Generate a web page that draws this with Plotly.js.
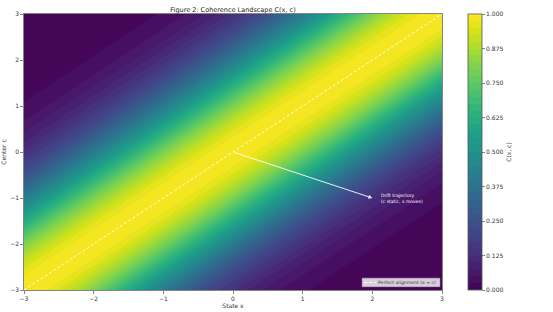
<!DOCTYPE html>
<html>
<head>
<meta charset="utf-8">
<script src="https://cdn.plot.ly/plotly-3.0.1.min.js"></script>
<style>html,body{margin:0;padding:0;background:#fff;}#chart{width:553px;height:312px;}</style>
</head>
<body>
<div id="chart"></div>
<script>
// grid coordinates (state x and center c)
const xStates = [-3,-2.75,-2.5,-2.25,-2,-1.75,-1.5,-1.25,-1,-0.75,-0.5,-0.25,0,0.25,0.5,0.75,1,1.25,1.5,1.75,2,2.25,2.5,2.75,3];
const cCenters = [-3,-2.75,-2.5,-2.25,-2,-1.75,-1.5,-1.25,-1,-0.75,-0.5,-0.25,0,0.25,0.5,0.75,1,1.25,1.5,1.75,2,2.25,2.5,2.75,3];
const coherenceByGap = [1.000,0.986,0.946,0.882,0.801,0.707,0.607,0.506,0.411,0.325,0.249,0.186,0.135,0.096,0.066,0.044,0.029,0.018,0.011,0.007,0.004,0.002,0.001,0.0006,0.0003];
// perfect alignment line
const alignX = [-3, 3];
const alignY = [-3, 3];
// drift arrow
const driftStart = [0, 0];
const driftEnd = [2, -1];
const cbTicks = [0,0.125,0.25,0.375,0.5,0.625,0.75,0.875,1];
const legendLabel = 'Perfect alignment (x = c)';

const z = cCenters.map((c, i) => xStates.map((x, j) => coherenceByGap[Math.abs(j - i)]));

const font = 'DejaVu Sans, sans-serif';
const traces = [
  {
    type: 'contour', x: xStates, y: cCenters, z: z,
    colorscale: 'Viridis', zmin: 0, zmax: 1,
    contours: {coloring: 'fill', start: 0, end: 1, size: 0.025, showlines: false},
    line: {width: 0},
    showlegend: false, hoverinfo: 'skip',
    colorbar: {
      x: 1.062, xanchor: 'left', xpad: 0, ypad: 0, y: 0.5, yanchor: 'middle', len: 1, lenmode: 'fraction',
      thickness: 14, thicknessmode: 'pixels',
      outlinewidth: 0.8, outlinecolor: '#555',
      tickvals: cbTicks, ticktext: cbTicks.map(v => v.toFixed(3)),
      ticks: 'outside', ticklen: 3, tickwidth: 0.6, tickcolor: '#333',
      tickfont: {family: font, size: 6, color: '#333'},
      title: {text: 'C(x, c)', side: 'right', font: {family: font, size: 6, color: '#333'}}
    }
  },
  {
    type: 'scatter', mode: 'lines', x: alignX, y: alignY,
    name: legendLabel, showlegend: false,
    line: {color: 'rgba(255,255,255,0.85)', width: 1, dash: '3px,2px'},
    hoverinfo: 'skip'
  }
];

const layout = {
  width: 553, height: 312,
  margin: {l: 24, r: 111, t: 14, b: 22},
  paper_bgcolor: '#fff', plot_bgcolor: '#fff',
  font: {family: font, size: 6, color: '#333'},
  title: {text: 'Figure 2: Coherence Landscape C(x, c)', font: {family: font, size: 6.5, color: '#222'},
          x: 0.5, xref: 'paper', xanchor: 'center', y: 1, yref: 'paper', yanchor: 'bottom', pad: {b: 2}},
  xaxis: {range: [-3, 3], dtick: 1, tick0: -3, ticks: 'outside', ticklen: 3, tickwidth: 0.6, tickcolor: '#333',
          showgrid: false, zeroline: false, showline: true, linecolor: '#666', linewidth: 0.8, mirror: true,
          tickfont: {family: font, size: 6, color: '#333'},
          title: {text: 'State x', font: {family: font, size: 6, color: '#333'}, standoff: 0}},
  yaxis: {range: [-3, 3], dtick: 1, tick0: -3, ticks: 'outside', ticklen: 3, tickwidth: 0.6, tickcolor: '#333',
          showgrid: false, zeroline: false, showline: true, linecolor: '#666', linewidth: 0.8, mirror: true,
          tickfont: {family: font, size: 6, color: '#333'},
          title: {text: 'Center c', font: {family: font, size: 6, color: '#333'}, standoff: 3}},
  showlegend: false,
  shapes: [
    {type: 'rect', xref: 'paper', yref: 'paper', x0: 0.809, x1: 0.995, y0: 0.012, y1: 0.043,
     fillcolor: 'rgba(255,255,255,0.8)', line: {color: 'rgba(200,200,200,0.8)', width: 0.5}},
    {type: 'line', xref: 'paper', yref: 'paper', x0: 0.814, x1: 0.842, y0: 0.0275, y1: 0.0275,
     line: {color: 'rgba(255,255,255,1)', width: 1, dash: '3px,2px'}}
  ],
  annotations: [
    {x: driftEnd[0], y: driftEnd[1], ax: driftStart[0], ay: driftStart[1], xref: 'x', yref: 'y', axref: 'x', ayref: 'y',
     showarrow: true, arrowhead: 2, arrowsize: 0.8, arrowwidth: 1, arrowcolor: 'rgba(255,255,255,0.9)', text: ''},
    {x: driftEnd[0] + 0.1, y: driftEnd[1], xref: 'x', yref: 'y', xanchor: 'left', yanchor: 'middle', showarrow: false,
     align: 'left', text: 'Drift trajectory<br>(c static, x moves)', font: {family: font, size: 4.5, color: '#fff'}},
    {x: 0.845, y: 0.0275, xref: 'paper', yref: 'paper', xanchor: 'left', yanchor: 'middle', showarrow: false,
     xshift: -1, text: legendLabel, font: {family: font, size: 4.6, color: '#333'}}
  ]
};

Plotly.newPlot('chart', traces, layout, {displayModeBar: false, staticPlot: true});
</script>
</body>
</html>
